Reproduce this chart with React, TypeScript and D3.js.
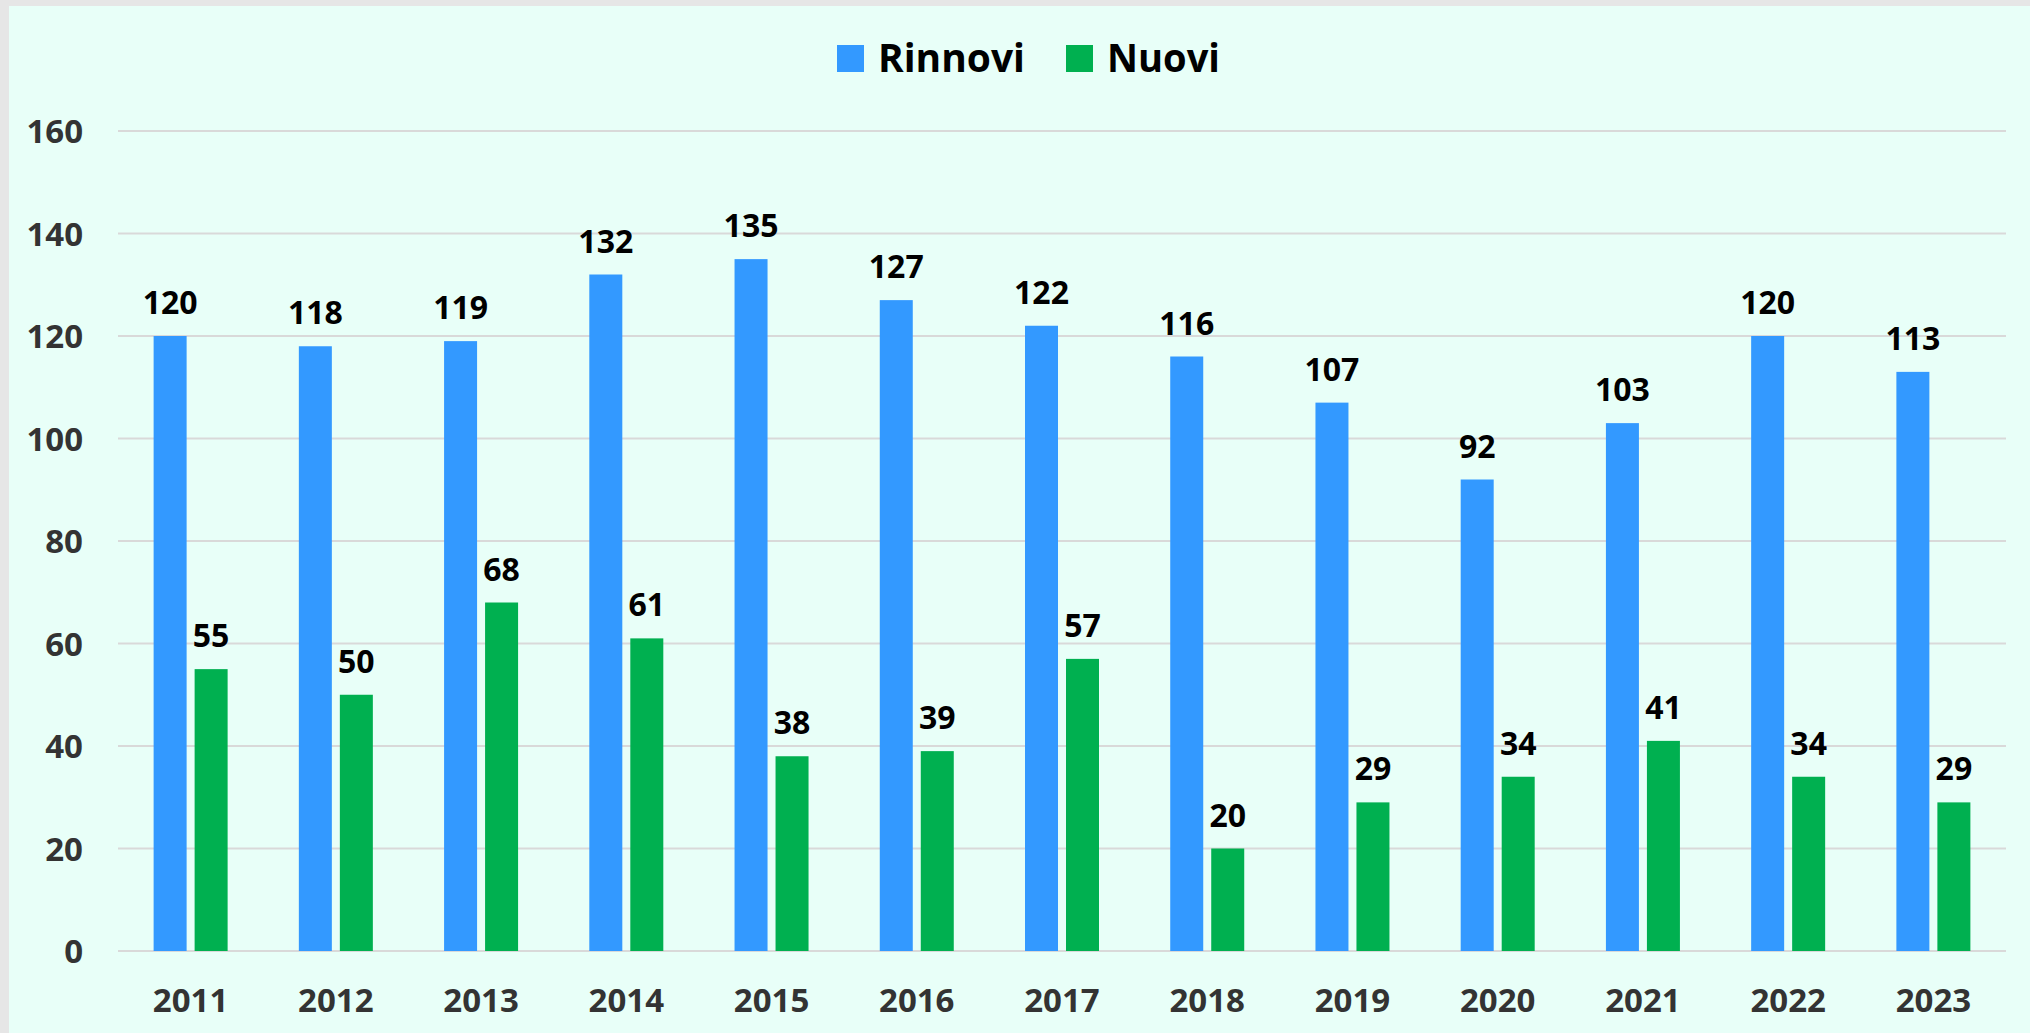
import React from "react";
import * as d3 from "d3";

const years = ["2011","2012","2013","2014","2015","2016","2017","2018","2019","2020","2021","2022","2023"];
const rinnovi = [120,118,119,132,135,127,122,116,107,92,103,120,113];
const nuovi = [55,50,68,61,38,39,57,20,29,34,41,34,29];
const yTicks = [0,20,40,60,80,100,120,140,160];
const seriesNames = ["Rinnovi","Nuovi"];
const seriesColors = ["#3399FF","#00B050"];

const W = 2030, H = 1033;
const FONT = "'Open Sans', 'Noto Sans', sans-serif";

export default function App() {
  const x = d3.scaleBand<string>().domain(years).range([118, 2006]).paddingInner(0).paddingOuter(0);
  const y = d3.scaleLinear().domain([0,160]).range([951, 131]);
  const barW = 33, gap = 8;
  const center = (yr: string) => (x(yr) as number) + x.bandwidth() / 2;
  const series = [rinnovi, nuovi];
  return (
    <svg width={W} height={H} style={{position:"absolute",left:0,top:0}}>
      <rect x={0} y={0} width={W} height={H} fill="#e6e6e6" />
      <rect x={9} y={6} width={W-9} height={H-6} fill="#E8FFF8" />
      {yTicks.map(t => (
        <g key={t}>
          <line x1={118} x2={2006} y1={y(t)} y2={y(t)} stroke="#D9D9D9" strokeWidth={2} />
          <text x={83} y={y(t)+12} textAnchor="end" fontFamily={FONT} fontWeight={700} fontSize={33} fill="#333333">{t}</text>
        </g>
      ))}
      {years.map((yr, i) => (
        <g key={yr}>
          {series.map((s, k) => {
            const bx = center(yr) - gap/2 - barW + k*(barW+gap);
            return (
              <g key={k}>
                <rect x={bx} y={y(s[i])} width={barW} height={y(0)-y(s[i])} fill={seriesColors[k]} />
                <text x={bx+barW/2} y={y(s[i])-22} textAnchor="middle" fontFamily={FONT} fontWeight={700} fontSize={32} fill="#000">{s[i]}</text>
              </g>
            );
          })}
          <text x={center(yr)} y={1012} textAnchor="middle" fontFamily={FONT} fontWeight={700} fontSize={33} fill="#333333">{yr}</text>
        </g>
      ))}
      <g>
        <rect x={837} y={45} width={27} height={27} fill={seriesColors[0]} />
        <text x={878} y={72} fontFamily={FONT} fontWeight={700} fontSize={40} fill="#000" textLength={147} lengthAdjust="spacingAndGlyphs">{seriesNames[0]}</text>
        <rect x={1066} y={45} width={27} height={27} fill={seriesColors[1]} />
        <text x={1107} y={72} fontFamily={FONT} fontWeight={700} fontSize={40} fill="#000" textLength={113} lengthAdjust="spacingAndGlyphs">{seriesNames[1]}</text>
      </g>
    </svg>
  );
}
